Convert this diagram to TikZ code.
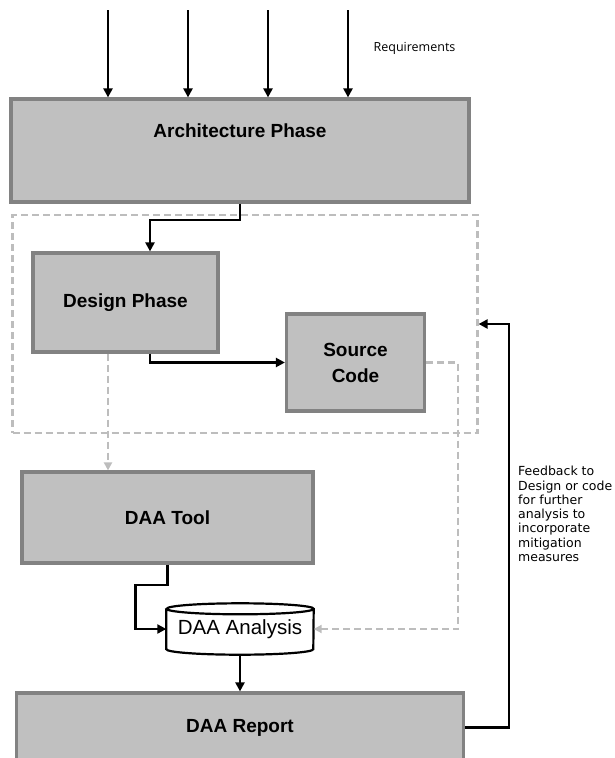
\documentclass[tikz,border=0pt]{standalone}
\usepackage{fontspec}
\setmainfont{Liberation Sans}
\newfontfamily\notefont{DejaVu Sans}
\newfontfamily\reqfont{Open Sans}
\usepackage{xcolor}
\usetikzlibrary{arrows.meta,positioning}

\definecolor{boxfill}{HTML}{C0C0C0}
\definecolor{boxline}{HTML}{828282}
\definecolor{dashgray}{HTML}{BDBDBD}

\begin{document}
\begin{tikzpicture}[x=1pt,y=-1pt,
  >={Triangle[length=9pt,width=9pt]},
  phase/.style={draw=boxline, fill=boxfill, line width=3.2pt, inner sep=0pt},
  phasetext/.style={font=\bfseries\fontsize{19}{26}\selectfont, align=center},
  flow/.style={->, line width=2.2pt},
  dashflow/.style={dashgray, line width=2.2pt, dash pattern=on 7pt off 4pt},
  grayflow/.style={dashflow, -{Triangle[length=8pt,width=8pt]}},
  cyl/.style={line width=2.2pt}]

  \useasboundingbox (0,0) rectangle (614,758);

  \node[phase, minimum width=458pt, minimum height=103pt] (arch) at (240,150.5) {};
  \node[phasetext] (archtxt) at (240,131) {Architecture Phase};

  \node[draw=dashgray, line width=2.2pt, dash pattern=on 7pt off 4pt,
        minimum width=465pt, minimum height=218pt, inner sep=0pt] (group) at (245,324) {};

  \node[phase, phasetext, minimum width=185pt, minimum height=99pt] (design) at (125.5,302.5) {Design Phase};
  \node[phase, phasetext, minimum width=138pt, minimum height=97pt] (source) at (355.5,362.5) {Source\\Code};
  \node[phase, phasetext, minimum width=291pt, minimum height=91pt] (tool) at (167.5,517.5) {DAA Tool};
  \node[phase, phasetext, minimum width=447pt, minimum height=69pt] (report) at (240,727.5) {DAA Report};

  \node[minimum width=147pt, minimum height=51pt, inner sep=0pt,
        font=\fontsize{20.5}{23}\selectfont] (ana) at (240,629) {DAA Analysis};
  \draw[cyl] ([yshift=-5.5pt]ana.north west) -- ([yshift=5.5pt]ana.south west)
    arc[start angle=180, end angle=360, x radius=73.5pt, y radius=5.5pt]
    -- ([yshift=-5.5pt]ana.north east)
    arc[start angle=0, end angle=360, x radius=73.5pt, y radius=5.5pt];

  \node[font=\reqfont\fontsize{12.5}{14}\selectfont] (req) at (414.5,48) {Requirements};
  \node[anchor=north west, align=left, inner sep=0pt,
        font=\notefont\fontsize{12.5}{14.3}\selectfont] (fbtext) at (518,466)
        {Feedback to\\Design or code\\for further\\analysis to\\incorporate\\mitigation\\measures};

  \foreach \i/\x in {1/108,2/188,3/268,4/348} {
    \coordinate (req\i) at (\x,10);
    \draw[flow] (req\i) -- (req\i |- arch.north);
  }

  \draw[flow] (arch.south) -- ++(0,16) -| ([xshift=24.5pt]design.north);
  \draw[flow] ([xshift=24.5pt]design.south) |- (source.west);

  \draw[grayflow] ([xshift=-17.5pt]design.south) -- ([xshift=-17.5pt]design.south |- tool.north);
  \draw[grayflow] (source.east) -- ++(32,0) |- (ana.east);

  \draw[flow] (tool.south) -- ++(0,20) -- ++(-32,0) |- (ana.west);
  \draw[flow] (ana.south) -- (report.north);

  \draw[flow] (report.east) -- ++(44,0) |- (group.east);

\end{tikzpicture}
\end{document}
